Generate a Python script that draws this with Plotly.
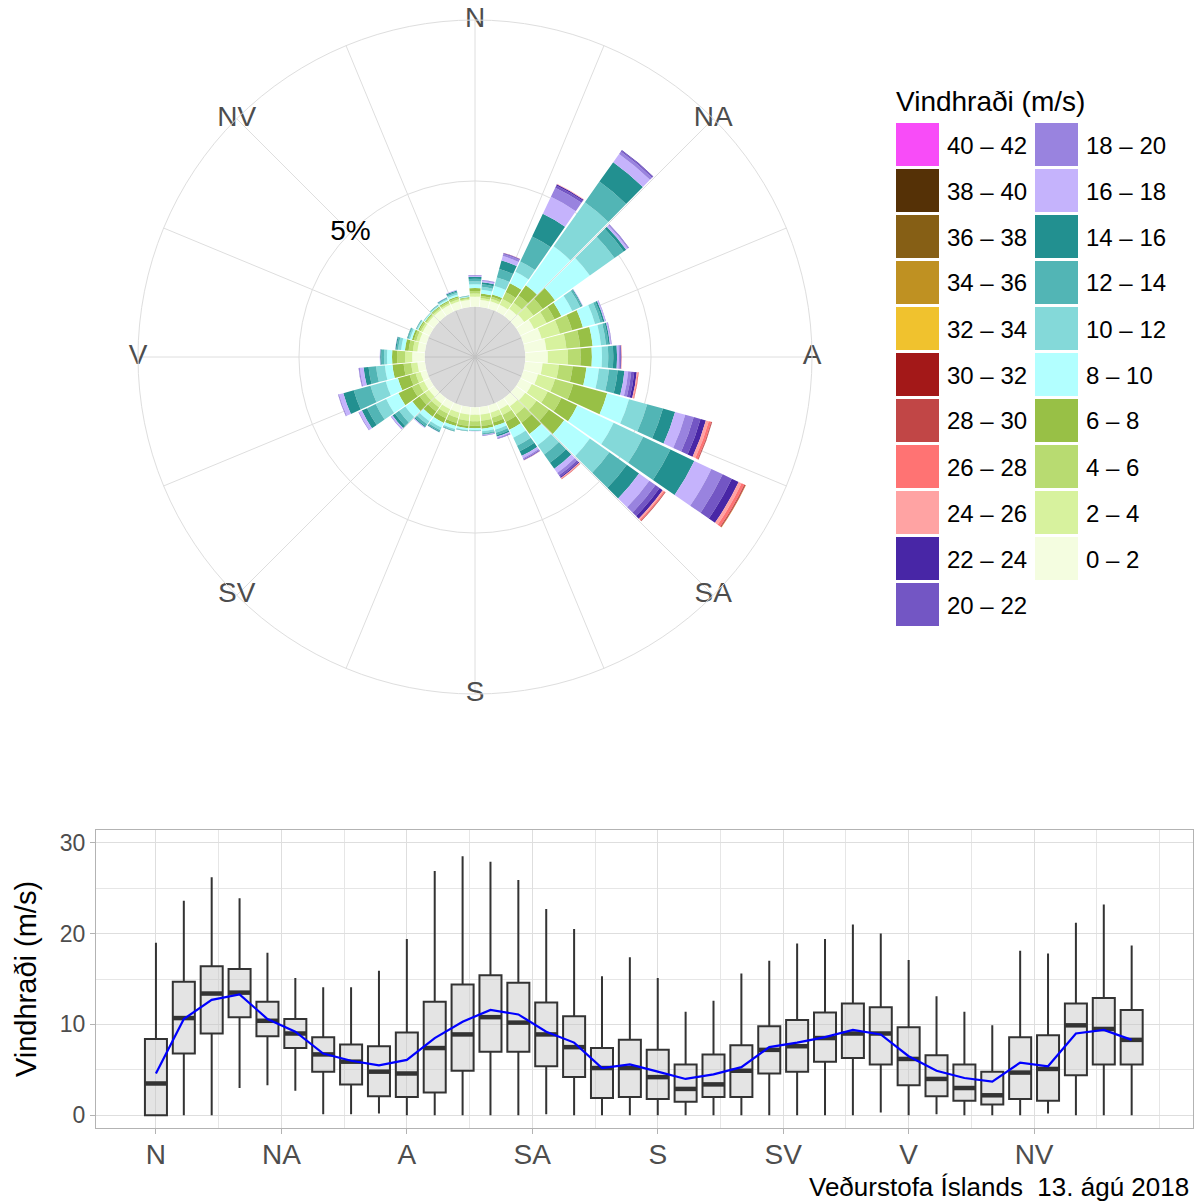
import plotly.graph_objects as go

W, H = 1199, 1203
FONT = "Liberation Sans, Arial, sans-serif"

# ---------------- data ----------------
speed_bins = ["0 – 2", "2 – 4", "4 – 6", "6 – 8", "8 – 10", "10 – 12", "12 – 14",
              "14 – 16", "16 – 18", "18 – 20", "20 – 22", "22 – 24", "24 – 26",
              "26 – 28", "28 – 30", "30 – 32", "32 – 34", "34 – 36", "36 – 38",
              "38 – 40", "40 – 42"]
bin_colors = ["#f4fde0", "#d7f29e", "#b8db71", "#98c046", "#b2ffff", "#84d9d9",
              "#52b5b5", "#229090", "#c5b3fc", "#9983df", "#7356c4", "#4826a6",
              "#ffa3a3", "#ff7373", "#c14646", "#a31818", "#f0c22e", "#bf9122",
              "#865f15", "#553106", "#f84cf8"]

directions = [0, 10, 20, 30, 40, 50, 60, 70, 80, 90, 100, 110, 120, 130, 140, 150,
              160, 170, 180, 190, 200, 210, 220, 230, 240, 250, 260, 270, 280, 290,
              300, 310, 320, 330, 340, 350]

# frequency (%) per speed bin (0-2, 2-4, ...) for each direction
freq_000 = [0.40, 0.12, 0.10, 0.12, 0.15, 0.12, 0.10, 0.08, 0.04, 0.02, 0.01]
freq_010 = [0.28, 0.08, 0.08, 0.10, 0.15, 0.12, 0.10, 0.08, 0.05, 0.03, 0.01]
freq_020 = [0.30, 0.10, 0.08, 0.10, 0.35, 0.35, 0.35, 0.35, 0.18, 0.08, 0.03, 0.02, 0.01]
freq_030 = [0.30, 0.25, 0.30, 0.40, 0.50, 0.45, 1.10, 1.00, 0.75, 0.40, 0.10, 0.05, 0.02]
freq_040 = [0.35, 0.30, 0.35, 0.50, 1.90, 2.15, 1.00, 0.95, 0.40, 0.12, 0.05, 0.02]
freq_050 = [0.40, 0.45, 0.45, 0.60, 1.70, 1.20, 0.45, 0.12, 0.08, 0.04, 0.02]
freq_060 = [0.60, 0.55, 0.35, 0.30, 0.48, 0.35, 0.07, 0.03, 0.02]
freq_070 = [0.75, 0.75, 0.50, 0.45, 0.50, 0.22, 0.10, 0.07, 0.04, 0.02]
freq_080 = [0.85, 0.80, 0.55, 0.50, 0.33, 0.20, 0.10, 0.06, 0.04, 0.02, 0.01]
freq_090 = [0.90, 0.80, 0.50, 0.45, 0.40, 0.25, 0.20, 0.15, 0.07, 0.05, 0.03, 0.02, 0.01, 0.01]
freq_100 = [0.70, 0.65, 0.55, 0.55, 0.50, 0.40, 0.35, 0.27, 0.15, 0.12, 0.12, 0.10, 0.04, 0.03, 0.01]
freq_110 = [0.60, 0.70, 0.75, 1.40, 0.90, 0.75, 0.65, 0.50, 0.42, 0.35, 0.28, 0.22, 0.12, 0.10, 0.03, 0.01]
freq_120 = [0.50, 0.70, 0.60, 0.70, 1.60, 1.30, 1.20, 1.05, 0.75, 0.50, 0.40, 0.30, 0.13, 0.12, 0.04, 0.02, 0.01]
freq_130 = [0.45, 0.55, 0.60, 0.75, 1.25, 0.95, 0.85, 0.60, 0.50, 0.30, 0.20, 0.15, 0.06, 0.05, 0.02, 0.01]
freq_140 = [0.40, 0.40, 0.40, 0.55, 0.55, 0.45, 0.40, 0.30, 0.20, 0.12, 0.08, 0.05, 0.03, 0.02, 0.01]
freq_150 = [0.30, 0.25, 0.30, 0.35, 0.35, 0.35, 0.25, 0.20, 0.10, 0.05, 0.03, 0.01, 0.01]
freq_160 = [0.30, 0.20, 0.20, 0.15, 0.15, 0.12, 0.10, 0.06, 0.05, 0.03, 0.02]
freq_170 = [0.30, 0.25, 0.20, 0.12, 0.10, 0.08, 0.04, 0.02, 0.02, 0.01, 0.01]
freq_180 = [0.30, 0.25, 0.18, 0.10, 0.07, 0.03, 0.01, 0.005, 0.005]
freq_190 = [0.30, 0.25, 0.20, 0.10, 0.07, 0.03, 0.01, 0.01]
freq_200 = [0.30, 0.22, 0.20, 0.13, 0.12, 0.06, 0.03, 0.01]
freq_210 = [0.30, 0.20, 0.20, 0.20, 0.20, 0.12, 0.06, 0.03, 0.01]
freq_220 = [0.28, 0.18, 0.20, 0.25, 0.22, 0.15, 0.10, 0.05, 0.03]
freq_230 = [0.25, 0.20, 0.25, 0.35, 0.35, 0.30, 0.20, 0.12, 0.06, 0.02]
freq_240 = [0.25, 0.22, 0.30, 0.60, 0.54, 0.46, 0.38, 0.23, 0.12, 0.03]
freq_250 = [0.25, 0.20, 0.24, 0.49, 0.50, 0.63, 0.69, 0.43, 0.18, 0.03, 0.01]
freq_260 = [0.30, 0.25, 0.30, 0.45, 0.30, 0.35, 0.30, 0.20, 0.15, 0.04, 0.01]
freq_270 = [0.50, 0.28, 0.32, 0.20, 0.20, 0.12, 0.10, 0.05, 0.02]
freq_280 = [0.30, 0.18, 0.17, 0.15, 0.15, 0.12, 0.07, 0.04, 0.01]
freq_290 = [0.30, 0.12, 0.10, 0.08, 0.08, 0.06, 0.04, 0.02]
freq_300 = [0.30, 0.08, 0.07, 0.05, 0.04, 0.03, 0.02, 0.01]
freq_310 = [0.30, 0.06, 0.05, 0.03, 0.03, 0.02, 0.01]
freq_320 = [0.30, 0.07, 0.05, 0.04, 0.03, 0.03, 0.02, 0.01]
freq_330 = [0.30, 0.07, 0.06, 0.05, 0.05, 0.04, 0.03, 0.02, 0.01]
freq_340 = [0.30, 0.08, 0.07, 0.06, 0.07, 0.07, 0.05, 0.04, 0.03]
freq_350 = [0.28, 0.05, 0.04, 0.03, 0.02, 0.02, 0.01, 0.005]

rose_rows = [freq_000, freq_010, freq_020, freq_030, freq_040, freq_050, freq_060,
             freq_070, freq_080, freq_090, freq_100, freq_110, freq_120, freq_130,
             freq_140, freq_150, freq_160, freq_170, freq_180, freq_190, freq_200,
             freq_210, freq_220, freq_230, freq_240, freq_250, freq_260, freq_270,
             freq_280, freq_290, freq_300, freq_310, freq_320, freq_330, freq_340,
             freq_350]

compass_labels = ["N", "NA", "A", "SA", "S", "SV", "V", "NV"]
compass_angles = [0, 45, 90, 135, 180, 225, 270, 315]

# box plot statistics of wind speed (m/s) per direction
box_low = [0, 0, 0, 3.0, 3.3, 2.7, 0.1, 0.1, 0.2, 0, 0, 0, 0, 0, 0.1, 0, 0, 0,
           0, 0, 0, 0, 0, 0, 0, 0, 0.3, 0, 0.1, 0, 0, 0, 0.2, 0, 0, 0]
box_q1 = [0, 6.8, 9.0, 10.8, 8.7, 7.4, 4.8, 3.4, 2.1, 2.0, 2.5, 4.9, 7.0, 7.0, 5.4, 4.2, 1.9, 2.0,
          1.8, 1.5, 2.0, 2.0, 4.6, 4.8, 5.9, 6.3, 5.6, 3.3, 2.1, 1.6, 1.2, 1.8, 1.6, 4.4, 5.6, 5.6]
box_med = [3.5, 10.7, 13.4, 13.5, 10.4, 9.0, 6.7, 5.9, 4.8, 4.6, 7.4, 8.9, 10.8, 10.2, 8.9, 7.5, 5.2, 5.2,
           4.2, 2.9, 3.4, 4.9, 7.2, 7.6, 8.5, 9.0, 9.0, 6.2, 4.0, 3.0, 2.2, 4.7, 5.1, 9.9, 9.5, 8.3]
box_q3 = [8.4, 14.7, 16.4, 16.1, 12.5, 10.6, 8.6, 7.8, 7.6, 9.1, 12.5, 14.4, 15.4, 14.6, 12.4, 10.9, 7.4, 8.3,
          7.2, 5.6, 6.7, 7.7, 9.8, 10.5, 11.3, 12.3, 11.9, 9.7, 6.6, 5.6, 4.8, 8.6, 8.8, 12.3, 12.9, 11.6]
box_high = [19.0, 23.6, 26.2, 23.9, 17.9, 15.1, 14.1, 14.1, 15.9, 19.4, 26.9, 28.5, 27.9, 25.9, 22.7, 20.5, 15.3, 17.4,
            15.1, 11.4, 12.6, 15.6, 17.0, 18.9, 19.4, 21.0, 20.0, 17.1, 13.1, 11.4, 9.9, 18.1, 17.8, 21.2, 23.2, 18.7]
box_mean = [4.6, 10.6, 12.7, 13.3, 10.6, 9.2, 6.8, 6.0, 5.5, 6.1, 8.5, 10.3, 11.6, 11.1, 9.2, 8.0, 5.2, 5.6,
            4.8, 4.0, 4.5, 5.3, 7.5, 8.0, 8.6, 9.4, 8.9, 6.5, 4.9, 4.1, 3.7, 5.8, 5.4, 9.0, 9.4, 8.3]

# ---------------- layout helpers ----------------
def px(x):
    return x / W


def py(y):
    return 1 - y / H


CX, CY, R = 475, 357, 337
HOLE = 2.0          # size of the grey centre disk in radial units
R_MAX = 11.4
BAR_W = 9.3
BOX_W = 7.9

fig = go.Figure()

# grey centre disk (semi-transparent so the spokes show through)
fig.add_trace(go.Barpolar(
    r=[HOLE] * 4, base=[-HOLE] * 4, theta=[45, 135, 225, 315], width=[90] * 4,
    marker=dict(color="rgba(128,128,128,0.30)", line=dict(width=0)),
    showlegend=False, hoverinfo="skip", subplot="polar"))

# stacked wind-rose bars
for j, (lab, col) in enumerate(zip(speed_bins, bin_colors)):
    r_vals = [row[j] if j < len(row) else 0 for row in rose_rows]
    if sum(r_vals) == 0:
        continue
    bases = [sum(row[:j]) for row in rose_rows]
    fig.add_trace(go.Barpolar(
        r=r_vals, base=bases, theta=directions, width=[BAR_W] * len(directions),
        marker=dict(color=col, line=dict(width=0)), name=lab,
        showlegend=False, subplot="polar"))

# compass labels on the outer circle and the 5% label
fig.add_trace(go.Scatterpolar(
    r=[R_MAX] * len(compass_labels), theta=compass_angles, mode="text",
    text=compass_labels, textfont=dict(family=FONT, size=28, color="#4d4d4d"),
    cliponaxis=False, showlegend=False, hoverinfo="skip", subplot="polar"))
fig.add_trace(go.Scatterpolar(
    r=[5], theta=[315], mode="text", text=["5%"],
    textfont=dict(family=FONT, size=28, color="black"),
    cliponaxis=False, showlegend=False, hoverinfo="skip", subplot="polar"))

# ---------------- box plot ----------------
fig.add_trace(go.Box(
    x=directions, q1=box_q1, median=box_med, q3=box_q3,
    lowerfence=box_low, upperfence=box_high, width=BOX_W,
    fillcolor="rgba(195,195,195,0.45)", line=dict(color="#333333", width=2),
    whiskerwidth=0, boxpoints=False, showlegend=False, hoverinfo="skip",
    xaxis="x", yaxis="y"))

med_x, med_y = [], []
for d, m in zip(directions, box_med):
    med_x += [d - BOX_W / 2, d + BOX_W / 2, None]
    med_y += [m, m, None]
fig.add_trace(go.Scatter(x=med_x, y=med_y, mode="lines",
                         line=dict(color="#333333", width=4.5),
                         showlegend=False, hoverinfo="skip"))

fig.add_trace(go.Scatter(x=directions, y=box_mean, mode="lines",
                         line=dict(color="#0000ff", width=2.2),
                         showlegend=False, hoverinfo="skip"))

# ---------------- custom legend ----------------
shapes = []
annotations = []
annotations.append(dict(text="Vindhraði (m/s)", x=px(894), y=py(101), xref="paper", yref="paper",
                        xanchor="left", yanchor="middle", showarrow=False,
                        font=dict(family=FONT, size=28, color="black")))
order = list(range(len(speed_bins) - 1, -1, -1))  # 40-42 ... 0-2
for k, j in enumerate(order):
    col_i = 0 if k < 11 else 1
    row_i = k if k < 11 else k - 11
    x0 = 896 if col_i == 0 else 1035
    y0 = 123 + row_i * 46
    shapes.append(dict(type="rect", xref="paper", yref="paper",
                       x0=px(x0), x1=px(x0 + 43), y0=py(y0), y1=py(y0 + 43),
                       fillcolor=bin_colors[j], line=dict(width=0)))
    annotations.append(dict(text=speed_bins[j], x=px(x0 + 49), y=py(y0 + 22),
                            xref="paper", yref="paper", xanchor="left", yanchor="middle",
                            showarrow=False, font=dict(family=FONT, size=24, color="black")))

annotations.append(dict(text="Veðurstofa Íslands\u00a0 13. ágú 2018", x=px(1191), y=py(1187),
                        xref="paper", yref="paper", xanchor="right", yanchor="middle",
                        showarrow=False, font=dict(family=FONT, size=26, color="black")))

fig.update_layout(
    width=W, height=H, margin=dict(l=0, r=0, t=0, b=0),
    paper_bgcolor="white", plot_bgcolor="white",
    font=dict(family=FONT),
    shapes=shapes, annotations=annotations, showlegend=False,
    polar=dict(
        domain=dict(x=[px(CX - R), px(CX + R)], y=[py(CY + R), py(CY - R)]),
        bgcolor="white", barmode="overlay", hole=0,
        radialaxis=dict(range=[-HOLE, R_MAX], tickmode="array", tickvals=[5],
                        showticklabels=False, ticks="", showline=False,
                        gridcolor="#dedede", gridwidth=1),
        angularaxis=dict(rotation=90, direction="clockwise", tickmode="array",
                         tickvals=[i * 22.5 for i in range(16)], showticklabels=False,
                         ticks="", gridcolor="#dedede", gridwidth=1,
                         showline=True, linecolor="#dedede", linewidth=1),
    ),
    xaxis=dict(domain=[px(96), px(1193)], range=[-21.5, 372],
               tickmode="array", tickvals=compass_angles, ticktext=compass_labels,
               tickfont=dict(family=FONT, size=28, color="#4d4d4d"),
               ticks="outside", ticklen=5, tickcolor="#b3b3b3", ticklabelstandoff=-4,
               showgrid=True, gridcolor="#dedede", gridwidth=1, zeroline=False,
               showline=True, mirror=True, linecolor="#b3b3b3", linewidth=1,
               minor=dict(tickvals=[22.5, 67.5, 112.5, 157.5, 202.5, 247.5, 292.5, 337.5, 360],
                          showgrid=True, gridcolor="#e6e6e6", gridwidth=0.6, ticks="")),
    yaxis=dict(domain=[py(1128), py(830)], range=[-1.4, 31.4],
               tickmode="array", tickvals=[0, 10, 20, 30],
               tickfont=dict(family=FONT, size=23, color="#4d4d4d"),
               ticks="outside", ticklen=5, tickcolor="#b3b3b3",
               showgrid=True, gridcolor="#dedede", gridwidth=1, zeroline=False,
               showline=True, mirror=True, linecolor="#b3b3b3", linewidth=1,
               minor=dict(tickvals=[5, 15, 25], showgrid=True, gridcolor="#e6e6e6",
                          gridwidth=0.6, ticks=""),
               title=dict(text="Vindhraði (m/s)", standoff=14,
                          font=dict(family=FONT, size=29, color="black"))),
)

fig.write_html("out.html",
               config={"displayModeBar": False},
               post_script="document.body.style.margin='0px';"
                           "document.body.style.overflow='hidden';")
